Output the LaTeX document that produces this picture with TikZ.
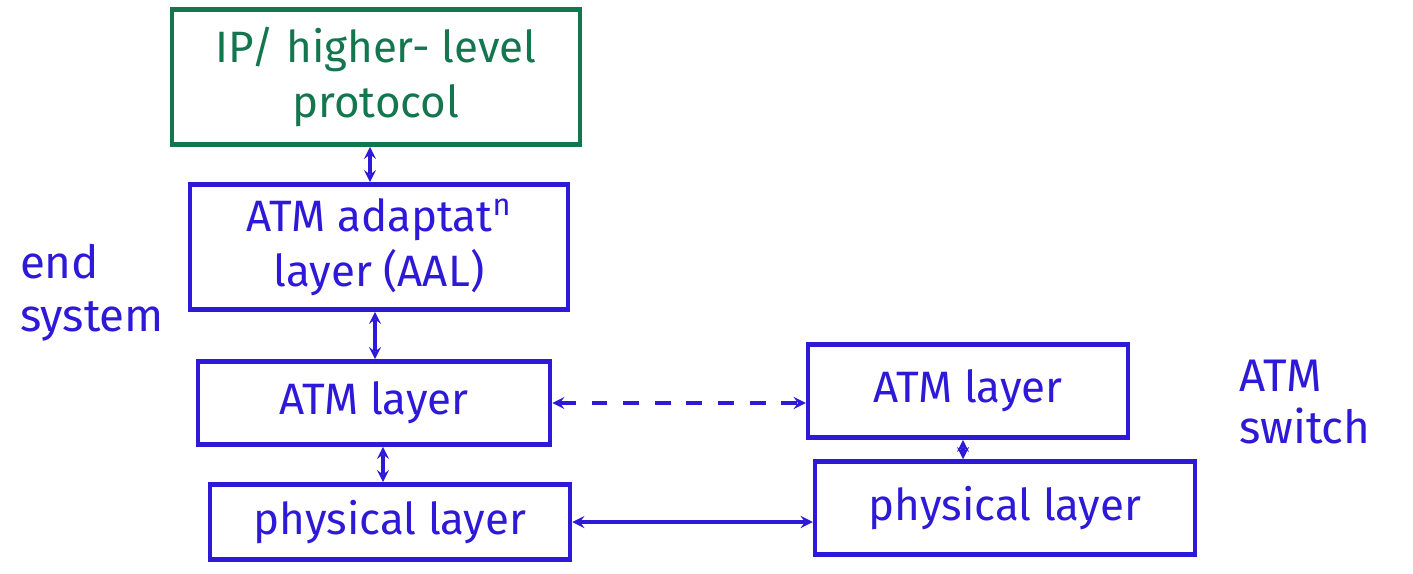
\documentclass[tikz,border=0pt]{standalone}
\usepackage{fontspec}
\setmainfont{Fira Sans}
\usepackage{tikz}
\usepackage{xcolor}
\definecolor{penblue}{RGB}{45,25,215}
\definecolor{pengreen}{RGB}{20,118,78}

\begin{document}
\begin{tikzpicture}[x=0.02cm,y=-0.02cm,
    layer/.style={draw=penblue,line width=2.6pt,align=center,text=penblue,
        font=\fontsize{25}{31}\selectfont,inner sep=0pt},
    toplayer/.style={layer,draw=pengreen,text=pengreen},
    side/.style={text=penblue,align=left,font=\fontsize{26}{30}\selectfont},
    flow/.style={<->,>=stealth,draw=penblue,line width=2pt},
    peer/.style={flow,dashed,dash pattern=on 9pt off 9pt}
]
    \useasboundingbox (0,0) rectangle (1413,574);

    \node[toplayer,minimum width=8.16cm,minimum height=2.7cm] (ip) at (376,77)
        {IP/ higher- level\\protocol};
    \node[layer,minimum width=7.56cm,minimum height=2.5cm] (aal) at (379,247)
        {ATM adaptat\textsuperscript{n}\\layer (AAL)};
    \node[layer,minimum width=7.04cm,minimum height=1.66cm] (atmL) at (374,403)
        {ATM layer};
    \node[layer,minimum width=7.2cm,minimum height=1.5cm] (phyL) at (390,522)
        {physical layer};

    \node[layer,minimum width=6.4cm,minimum height=1.86cm] (atmR) at (968,391)
        {ATM layer};
    \node[layer,minimum width=7.6cm,minimum height=1.86cm] (phyR) at (1005,508)
        {physical layer};

    \node[side] (endsys) at (92,293) {end\\system};
    \node[side] (switch) at (1305,402) {ATM\\switch};

    \draw[flow] (ip.south -| 370,0) -- (aal.north -| 370,0);
    \draw[flow] (aal.south -| 375,0) -- (atmL.north -| 375,0);
    \draw[flow] (atmL.south -| 383,0) -- (phyL.north -| 383,0);
    \draw[flow] (atmR.south -| 963,0) -- (phyR.north -| 963,0);
    \draw[peer] (atmL.east) -- (atmR.west |- atmL.east);
    \draw[flow] (phyL.east) -- (phyR.west |- phyL.east);
\end{tikzpicture}
\end{document}
